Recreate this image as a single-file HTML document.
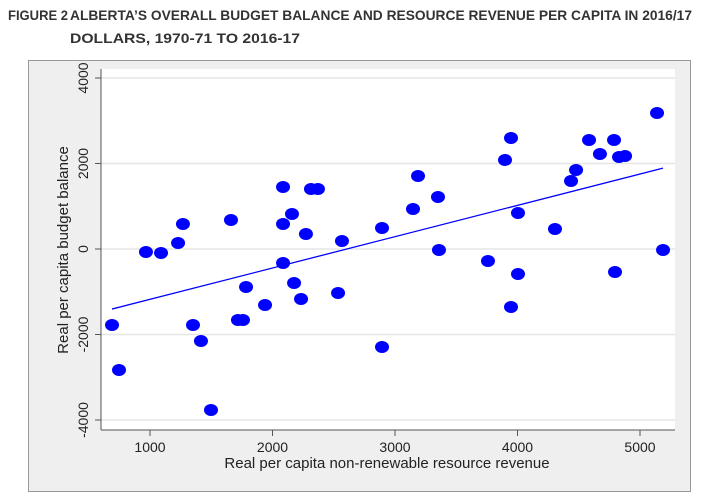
<!DOCTYPE html>
<html><head><meta charset="utf-8"><style>
body{margin:0;width:704px;height:502px;background:#fff;overflow:hidden;font-family:"Liberation Sans",sans-serif}
</style></head><body>
<svg id="c" width="704" height="502" style="position:absolute;left:0;top:0"></svg>
<script>
const xs=[690,747,967,1090,1229,1269,1351,1416,1498,1661,1718,1759,1784,1939,2086,2086,2086,2159,2176,2233,2273,2314,2371,2567,2535,2894,2894,3147,3188,3351,3359,3759,3898,3947,3947,4004,4004,4306,4437,4478,4584,4673,4788,4829,4796,4878,5139,5188];
const ys=[-1778,-2830,-70,-94,140,585,-1778,-2152,-3766,678,-1661,-1661,-889,-1310,1450,585,-327,819,-795,-1170,351,1404,1404,187,-1029,-2292,491,936,1708,1216,-23,-281,2082,2596,-1357,842,-585,468,1591,1848,2550,2222,2550,2152,-538,2175,3181,-23];
const xTicks=[1000,2000,3000,4000,5000];
const yTicks=[-4000,-2000,0,2000,4000];
const NS='http://www.w3.org/2000/svg';
const svg=document.getElementById('c');
const X=v=>27.5+v*0.1225;
const Y=v=>249-v*0.04275;
function mk(t,a,p){const e=document.createElementNS(NS,t);for(const k in a)e.setAttribute(k,a[k]);(p||svg).appendChild(e);return e;}
let e;
const tStyle={'font-size':14,'font-weight':'bold',fill:'#333','lengthAdjust':'spacingAndGlyphs'};
e=mk('text',Object.assign({x:8,y:20,textLength:60},tStyle));
e.textContent='FIGURE 2';


e=mk('text',Object.assign({x:70,y:20,textLength:622},tStyle));
e.textContent='ALBERTA’S OVERALL BUDGET BALANCE AND RESOURCE REVENUE PER CAPITA IN 2016/17';


e=mk('text',Object.assign({x:70,y:43,textLength:230},tStyle));
e.textContent='DOLLARS, 1970-71 TO 2016-17';


e=mk('rect',{x:28.5,y:60.5,width:662,height:431,fill:'#efefef',stroke:'#999'});


e=mk('rect',{x:101,y:69,width:574,height:361,fill:'#fff'});


yTicks.forEach(v=>{
 e=mk('line',{x1:101,x2:675,y1:Y(v),y2:Y(v),stroke:'#e6e6e6','stroke-width':1.5});
 
 
 mk('line',{x1:95,x2:101,y1:Y(v),y2:Y(v),stroke:'#555'});
 e=mk('text',{x:0,y:0,transform:`translate(88,${Y(v)}) rotate(-90)`,'text-anchor':'middle','font-size':14,fill:'#222'});
 e.textContent=v;
 
 
});
xTicks.forEach(v=>{
 mk('line',{x1:X(v),x2:X(v),y1:430,y2:436,stroke:'#555'});
 e=mk('text',{x:X(v),y:452,'text-anchor':'middle','font-size':14,fill:'#222'});
 e.textContent=v;
 
 
});
e=mk('line',{x1:101,x2:101,y1:69,y2:430,stroke:'#555'});


e=mk('line',{x1:101,x2:675,y1:430,y2:430,stroke:'#555'});


e=mk('text',{x:387,y:468,'text-anchor':'middle','font-size':15,fill:'#222'});
e.textContent='Real per capita non-renewable resource revenue';


e=mk('text',{x:0,y:0,transform:'translate(68,250) rotate(-90)','text-anchor':'middle','font-size':15,fill:'#222'});
e.textContent='Real per capita budget balance';


const n=xs.length,mx=xs.reduce((a,b)=>a+b)/n,my=ys.reduce((a,b)=>a+b)/n;
let sxy=0,sxx=0;for(let i=0;i<n;i++){sxy+=(xs[i]-mx)*(ys[i]-my);sxx+=(xs[i]-mx)**2;}
const b=sxy/sxx,a=my-b*mx;
const x0=Math.min(...xs),x1=Math.max(...xs);
e=mk('line',{x1:X(x0),y1:Y(a+b*x0),x2:X(x1),y2:Y(a+b*x1),stroke:'#0000ff','stroke-width':1.3});


xs.forEach((v,i)=>{
 e=mk('ellipse',{cx:X(v),cy:Y(ys[i]),rx:7,ry:6,fill:'#0000ff'});
 
 
});
</script>
</body></html>
